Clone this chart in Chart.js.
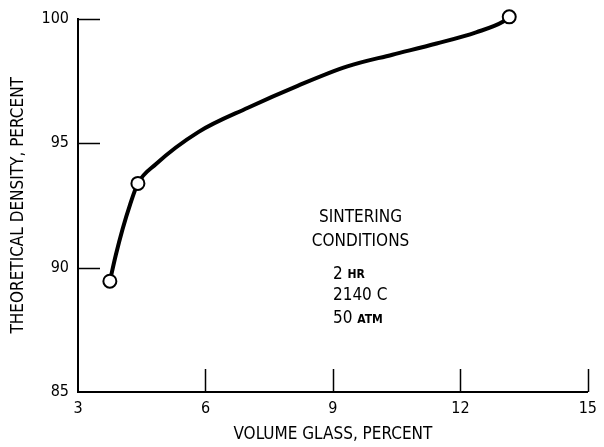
<!DOCTYPE html>
<html lang="en">
<head>
    <meta charset="UTF-8">
    <title>Theoretical density vs volume glass</title>
    <script src="https://cdn.jsdelivr.net/npm/chart.js"></script>
    <style>
        body { margin: 0; background: #fff; }
        #wrap { width: 604px; height: 447px; }
    </style>
</head>
<body>
    <div id="wrap">
        <canvas id="densityChart" width="604" height="447"></canvas>
    </div>

    <script type="text/javascript">
        // measured points (open circles)
        var pointX = [3.75, 4.41, 13.15];
        var pointY = [89.45, 93.38, 100.07];

        // faired curve
        var curveX = [3.75, 3.89, 4.05, 4.22, 4.41, 4.83, 5.84, 7.0, 8.17, 9.34, 10.4, 11.44, 12.37, 13.0, 13.15];
        var curveY = [89.45, 90.5, 91.55, 92.5, 93.38, 94.15, 95.45, 96.42, 97.3, 98.08, 98.55, 99.0, 99.45, 99.87, 100.07];

        var xTicks = [3, 6, 9, 12, 15];
        var yTicks = [85, 90, 95, 100];

        var FONT = '"DejaVu Sans Condensed", "Liberation Sans Narrow", "DejaVu Sans", sans-serif';

        function toXY(xs, ys) {
            return xs.map(function (x, i) { return { x: x, y: ys[i] }; });
        }

        // inward tick marks + the sintering note
        var decorations = {
            id: 'decorations',
            afterDraw: function (chart) {
                var ctx = chart.ctx;
                var xs = chart.scales.x, ys = chart.scales.y;
                var area = chart.chartArea;
                ctx.save();
                ctx.strokeStyle = '#000';
                ctx.lineWidth = 1.5;
                ctx.beginPath();
                yTicks.slice(1).forEach(function (v) {
                    var py = Math.round(ys.getPixelForValue(v)) + 0.5;
                    ctx.moveTo(area.left, py);
                    ctx.lineTo(area.left + 22, py);
                });
                xTicks.slice(1).forEach(function (v) {
                    var px = Math.round(xs.getPixelForValue(v)) + 0.5;
                    ctx.moveTo(px, area.bottom);
                    ctx.lineTo(px, area.bottom - 23);
                });
                ctx.stroke();

                ctx.fillStyle = '#000';
                ctx.textBaseline = 'middle';
                ctx.textAlign = 'center';
                ctx.font = '17px ' + FONT;
                var cx = xs.getPixelForValue(9.65);
                ctx.fillText('SINTERING', cx, ys.getPixelForValue(92.0));
                ctx.fillText('CONDITIONS', cx, ys.getPixelForValue(91.05));

                // lines with small-caps units
                var left = xs.getPixelForValue(9.0);
                var rows = [
                    ['2 ', 'HR', 89.73],
                    ['2140 C', '', 88.88],
                    ['50 ', 'ATM', 87.94]
                ];
                ctx.textAlign = 'left';
                rows.forEach(function (r) {
                    var py = ys.getPixelForValue(r[2]);
                    ctx.font = '17px ' + FONT;
                    ctx.fillText(r[0], left, py);
                    var w = ctx.measureText(r[0]).width;
                    ctx.font = 'bold 12px ' + FONT;
                    ctx.fillText(r[1], left + w, py + 1);
                });
                ctx.restore();
            }
        };

        var ctx = document.getElementById('densityChart').getContext('2d');
        var densityChart = new Chart(ctx, {
            type: 'scatter',
            data: {
                datasets: [{
                    label: 'Measured',
                    data: toXY(pointX, pointY),
                    pointRadius: 6.5,
                    pointBorderWidth: 2,
                    pointBackgroundColor: '#fff',
                    pointBorderColor: '#000',
                    showLine: false,
                    clip: false,
                    order: 0
                }, {
                    label: 'Curve',
                    data: toXY(curveX, curveY),
                    showLine: true,
                    borderColor: '#000',
                    borderWidth: 4,
                    pointRadius: 0,
                    cubicInterpolationMode: 'monotone',
                    clip: false,
                    order: 1
                }]
            },
            options: {
                responsive: false,
                animation: false,
                layout: { padding: { top: 15, right: 11, left: 0, bottom: 0 } },
                plugins: {
                    legend: { display: false },
                    tooltip: { enabled: false }
                },
                scales: {
                    x: {
                        type: 'linear',
                        min: 3,
                        max: 15,
                        afterFit: function (scale) { scale.height = 55; },
                        afterBuildTicks: function (scale) {
                            scale.ticks = xTicks.map(function (v) { return { value: v }; });
                        },
                        grid: { display: false, drawTicks: false },
                        border: { display: true, color: '#000', width: 2 },
                        ticks: {
                            color: '#000',
                            padding: 7,
                            maxRotation: 0,
                            font: { family: FONT, size: 16 }
                        },
                        title: {
                            display: true,
                            text: 'VOLUME GLASS, PERCENT',
                            color: '#000',
                            padding: { top: 0, bottom: 2 },
                            font: { family: FONT, size: 17 }
                        }
                    },
                    y: {
                        type: 'linear',
                        min: 85,
                        max: 100,
                        afterFit: function (scale) { scale.width = 78; },
                        afterBuildTicks: function (scale) {
                            scale.ticks = yTicks.map(function (v) { return { value: v }; });
                        },
                        grid: { display: false, drawTicks: false },
                        border: { display: true, color: '#000', width: 2 },
                        ticks: {
                            color: '#000',
                            padding: 9,
                            font: { family: FONT, size: 16 }
                        },
                        title: {
                            display: true,
                            text: 'THEORETICAL DENSITY, PERCENT',
                            color: '#000',
                            padding: { top: 8, bottom: 0 },
                            font: { family: FONT, size: 17 }
                        }
                    }
                }
            },
            plugins: [decorations]
        });
    </script>
</body>
</html>
